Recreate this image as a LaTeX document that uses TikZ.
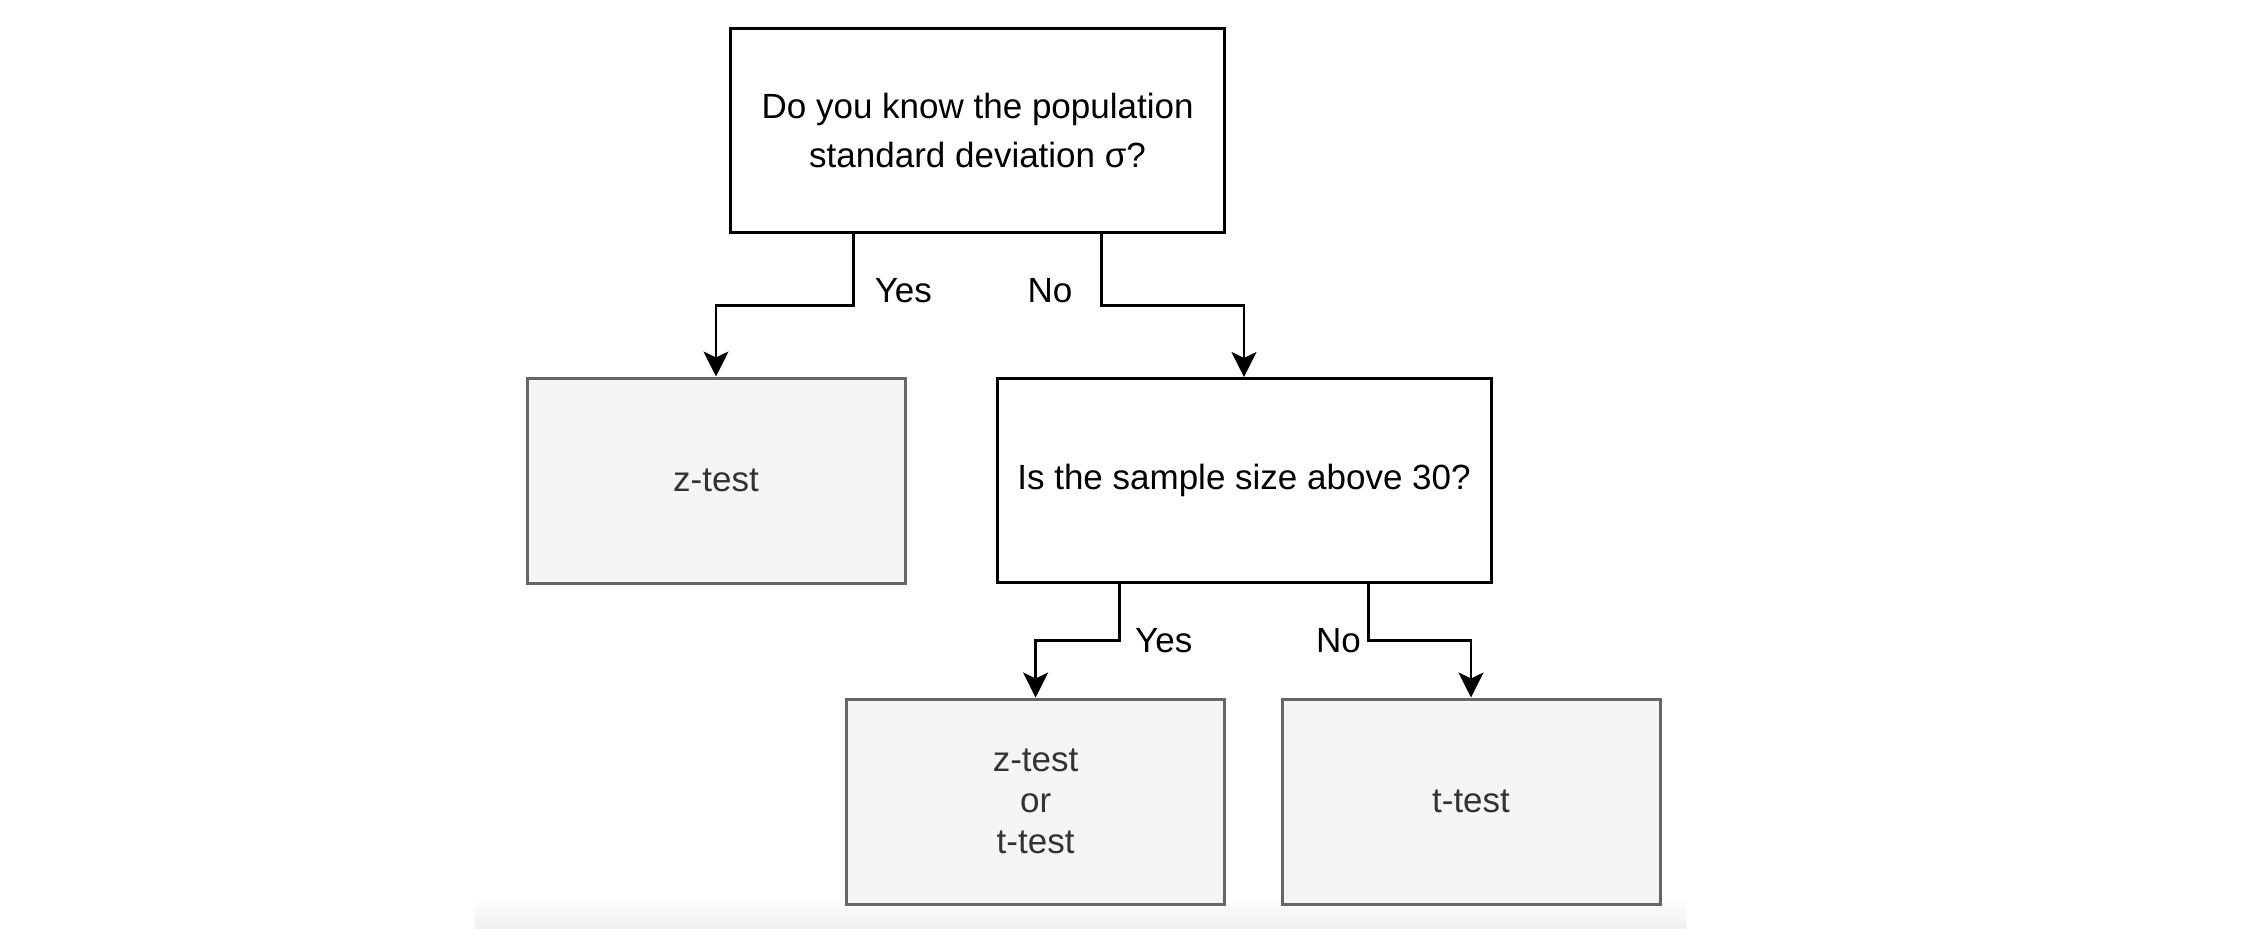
\documentclass[tikz,border=0pt]{standalone}
\usepackage{fontspec}
\setmainfont{Liberation Sans}
\usetikzlibrary{calc,arrows.meta}
\definecolor{boxgray}{HTML}{F5F5F5}
\definecolor{bordergray}{HTML}{666666}
\definecolor{textgray}{HTML}{333333}
\newcommand{\diagfont}{\fontsize{17.5}{24.5}\selectfont}
\begin{document}
\begin{tikzpicture}[x=0.5pt, y=-0.5pt,
  qbox/.style={draw=black, line width=1.5pt, fill=white, minimum width=247pt,
    minimum height=102pt, align=center, inner sep=0pt, font=\diagfont},
  rbox/.style={draw=bordergray, fill=boxgray, text=textgray, line width=1.5pt,
    minimum width=189pt, minimum height=102.5pt, align=center, inner sep=0pt,
    font=\diagfont},
  arr/.style={line width=1.4pt, -{Stealth[length=12.5pt,width=12.5pt,inset=3pt]}},
  lbl/.style={inner sep=0pt, font=\diagfont}]
\useasboundingbox (0,0) rectangle (2246,938);
\fill[white] (0,0) rectangle (2246,938);
% faint band at the bottom
\shade[top color=white, bottom color=black!6, draw=none] (475,898) rectangle (1686,928);

\node[qbox] (top) at (977.6,130.3) {Do you know the population\\standard deviation σ?};
\node[rbox] (z1) at (716,480.5) {z-test};
\node[qbox] (samp) at (1244,480.5) {Is the sample size above 30?};
\node[rbox, font=\fontsize{17.5}{20.5}\selectfont] (zt) at (1035.6,801.5) {z-test\\or\\t-test};
\node[rbox] (t1) at (1471,801.5) {t-test};

% level 1 connectors
\coordinate (a1) at ($(top.south west)!0.25!(top.south east)$);
\coordinate (a2) at ($(top.south west)!0.75!(top.south east)$);
\coordinate (m1) at ($(top.south)!0.5!(z1.north)$);
\draw[arr] (a1) -- (a1 |- m1) -| (z1.north);
\draw[arr] (a2) -- (a2 |- m1) -| (samp.north);
\node[lbl, anchor=base west] at ($(a1 |- m1)+(21,-3)$) {Yes};
\node[lbl, anchor=base east] at ($(a2 |- m1)+(-29,-3)$) {No};

% level 2 connectors
\coordinate (b1) at ($(samp.south west)!0.25!(samp.south east)$);
\coordinate (b2) at ($(samp.south west)!0.75!(samp.south east)$);
\coordinate (m2) at ($(samp.south)!0.5!(zt.north)$);
\draw[arr] (b1) -- (b1 |- m2) -| (zt.north);
\draw[arr] (b2) -- (b2 |- m2) -| (t1.north);
\node[lbl, anchor=west] at ($(b1 |- m2)+(15,0)$) {Yes};
\node[lbl, anchor=east] at ($(b2 |- m2)+(-7,0)$) {No};
\end{tikzpicture}
\end{document}
